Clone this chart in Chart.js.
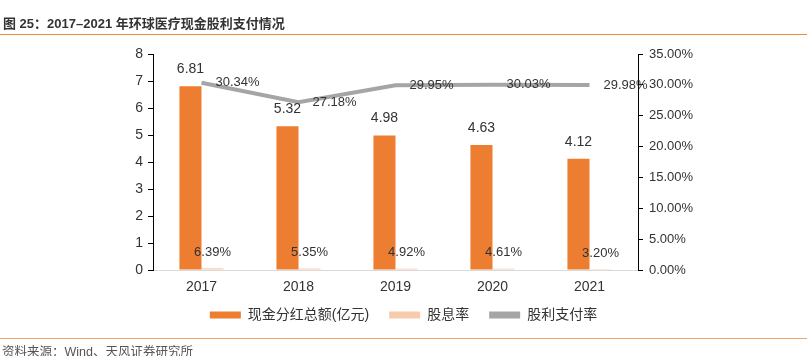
<!DOCTYPE html>
<html>
<head>
<meta charset="utf-8">
<script src="https://cdn.jsdelivr.net/npm/chart.js@4/dist/chart.umd.min.js"></script>
<style>
html,body{margin:0;padding:0;background:#fff;}
#wrap{position:relative;width:807px;height:356px;overflow:hidden;font-family:"Liberation Sans","Noto Sans CJK SC",sans-serif;}
#title{position:absolute;left:3px;top:13px;font-size:13px;font-weight:bold;color:#333;white-space:nowrap;font-family:"Liberation Sans","Noto Sans CJK SC",sans-serif;}
#tline{position:absolute;left:0;top:34px;width:807px;height:0;border-top:1.5px solid #ED8B3D;}
#bline{position:absolute;left:0;top:338px;width:807px;height:0;border-top:1.5px solid #F4A56E;}
#src{position:absolute;left:2px;top:341px;font-size:12.5px;color:#555;white-space:nowrap;}
#c{position:absolute;left:0;top:0;}
</style>
</head>
<body>
<div id="wrap">
<canvas id="c" width="807" height="356"></canvas>
<div id="title">图 25：2017–2021 年环球医疗现金股利支付情况</div>
<div id="tline"></div>
<div id="bline"></div>
<div id="src">资料来源：Wind、天风证券研究所</div>
</div>
<script>
const years = ['2017', '2018', '2019', '2020', '2021'];
const cashDividend = [6.81, 5.32, 4.98, 4.63, 4.12];
const dividendYield = [0.0639, 0.0535, 0.0492, 0.0461, 0.0320];
const payoutRatio = [0.3034, 0.2718, 0.2995, 0.3003, 0.2998];
const leftTicks = [0, 1, 2, 3, 4, 5, 6, 7, 8];
const rightTicks = [0, 0.05, 0.10, 0.15, 0.20, 0.25, 0.30, 0.35];

const FONT = '"Liberation Sans","Noto Sans CJK SC",sans-serif';
const TXT = '#333';

const labelPlugin = {
  id: 'valueLabels',
  afterLayout(chart) {
    if (chart.legend) { chart.legend.top -= 10; chart.legend.bottom -= 10; }
  },
  afterDatasetsDraw(chart) {
    const ctx = chart.ctx;
    ctx.save();
    ctx.fillStyle = TXT;
    ctx.textBaseline = 'middle';
    ctx.font = '14px ' + FONT;
    chart.getDatasetMeta(0).data.forEach((el, i) => {
      ctx.textAlign = 'center';
      ctx.fillText(cashDividend[i].toFixed(2), el.x, el.y - 17);
    });
    ctx.font = '13px ' + FONT;
    chart.getDatasetMeta(1).data.forEach((el, i) => {
      ctx.textAlign = 'center';
      ctx.fillText((dividendYield[i] * 100).toFixed(2) + '%', el.x, el.y - 16);
    });
    chart.getDatasetMeta(2).data.forEach((el, i) => {
      ctx.textAlign = 'left';
      ctx.fillText((payoutRatio[i] * 100).toFixed(2) + '%', el.x + 14, el.y);
    });
    ctx.restore();
  }
};

new Chart(document.getElementById('c'), {
  data: {
    labels: years,
    datasets: [
      {
        type: 'bar', label: '现金分红总额(亿元)', data: cashDividend, yAxisID: 'y',
        backgroundColor: '#ED7D31', categoryPercentage: 0.455, barPercentage: 1.0, order: 2
      },
      {
        type: 'bar', label: '股息率', data: dividendYield, yAxisID: 'y',
        backgroundColor: '#F8CBAD', categoryPercentage: 0.455, barPercentage: 1.0, order: 2
      },
      {
        type: 'line', label: '股利支付率', data: payoutRatio, yAxisID: 'y1',
        borderColor: '#A5A5A5', backgroundColor: '#A5A5A5', borderWidth: 4,
        pointRadius: 0, tension: 0, order: 1
      }
    ]
  },
  options: {
    responsive: false,
    animation: false,
    devicePixelRatio: 1,
    layout: { padding: { top: 54, left: 0, right: 0, bottom: 14 } },
    plugins: {
      tooltip: { enabled: false },
      legend: {
        position: 'bottom',
        labels: {
          font: { size: 14, family: FONT }, color: TXT,
          boxWidth: 31, boxHeight: 7, padding: 20,
          generateLabels(chart) {
            return chart.data.datasets.map((ds, i) => ({
              text: ds.label, fillStyle: ds.backgroundColor, strokeStyle: ds.backgroundColor,
              lineWidth: 0, hidden: false, datasetIndex: i, fontColor: TXT
            }));
          }
        }
      }
    },
    scales: {
      x: {
        grid: { display: false, drawTicks: false },
        border: { display: true, color: '#D9D9D9', width: 1 },
        ticks: { font: { size: 14, family: FONT }, color: TXT, padding: 9 },
        afterFit(s) { s.height = 28; }
      },
      y: {
        position: 'left', min: 0, max: 8,
        afterBuildTicks(s) { s.ticks = leftTicks.map(v => ({ value: v })); },
        grid: { drawOnChartArea: false, drawTicks: true, tickLength: 5, color: '#000' },
        border: { display: true, color: '#000', width: 1 },
        ticks: { font: { size: 14, family: FONT }, color: TXT, padding: 5 },
        afterFit(s) { s.width = 153; }
      },
      y1: {
        position: 'right', min: 0, max: 0.35,
        afterBuildTicks(s) { s.ticks = rightTicks.map(v => ({ value: v })); },
        grid: { drawOnChartArea: false, drawTicks: true, tickLength: 5, color: '#000' },
        border: { display: true, color: '#000', width: 1 },
        ticks: { font: { size: 13, family: FONT }, color: TXT, padding: 6,
          callback: v => (v * 100).toFixed(2) + '%' },
        afterFit(s) { s.width = 169; }
      }
    }
  },
  plugins: [labelPlugin]
});
</script>
</body>
</html>
